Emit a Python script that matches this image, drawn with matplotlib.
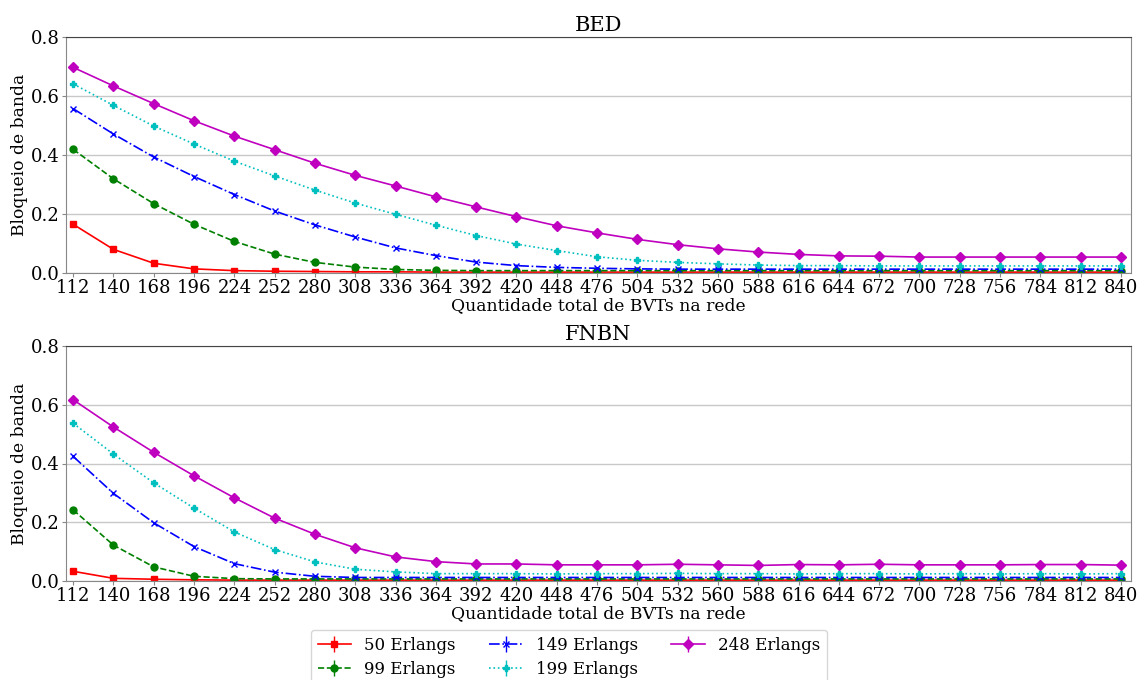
import matplotlib
matplotlib.use("Agg")
import matplotlib.pyplot as plt
import numpy as np

plt.rcParams['font.family'] = ['DejaVu Serif']

bvts = list(range(112, 841, 28))
labels = ["50 Erlangs", "99 Erlangs", "149 Erlangs", "199 Erlangs", "248 Erlangs"]

bed_50 = [0.165, 0.080, 0.033, 0.014, 0.008, 0.006, 0.005, 0.004, 0.004, 0.003, 0.003, 0.003, 0.003,
          0.003, 0.003, 0.003, 0.003, 0.003, 0.003, 0.003, 0.003, 0.003, 0.003, 0.003, 0.003, 0.003, 0.003]
bed_99 = [0.419, 0.319, 0.235, 0.165, 0.107, 0.064, 0.036, 0.020, 0.012, 0.009, 0.008, 0.008, 0.008,
          0.008, 0.008, 0.008, 0.008, 0.008, 0.008, 0.008, 0.008, 0.008, 0.008, 0.008, 0.008, 0.008, 0.008]
bed_149 = [0.557, 0.471, 0.393, 0.327, 0.266, 0.210, 0.163, 0.122, 0.085, 0.059, 0.037, 0.025, 0.019,
           0.016, 0.014, 0.013, 0.013, 0.013, 0.013, 0.013, 0.013, 0.013, 0.013, 0.013, 0.013, 0.013, 0.013]
bed_199 = [0.641, 0.568, 0.498, 0.437, 0.379, 0.329, 0.281, 0.237, 0.199, 0.162, 0.127, 0.098, 0.076,
           0.055, 0.043, 0.036, 0.031, 0.027, 0.025, 0.025, 0.024, 0.024, 0.024, 0.024, 0.024, 0.024, 0.024]
bed_248 = [0.697, 0.634, 0.574, 0.516, 0.464, 0.418, 0.372, 0.331, 0.295, 0.258, 0.224, 0.191, 0.160,
           0.136, 0.114, 0.096, 0.082, 0.071, 0.063, 0.058, 0.057, 0.054, 0.054, 0.054, 0.054, 0.054, 0.054]

fnbn_50 = [0.033, 0.009, 0.006, 0.004, 0.003, 0.003, 0.003, 0.003, 0.003, 0.003, 0.003, 0.003, 0.003,
           0.003, 0.003, 0.003, 0.003, 0.003, 0.003, 0.003, 0.003, 0.003, 0.003, 0.003, 0.003, 0.003, 0.003]
fnbn_99 = [0.242, 0.122, 0.048, 0.016, 0.008, 0.007, 0.007, 0.007, 0.007, 0.007, 0.007, 0.007, 0.007,
           0.007, 0.007, 0.007, 0.007, 0.007, 0.007, 0.007, 0.007, 0.007, 0.007, 0.007, 0.007, 0.007, 0.007]
fnbn_149 = [0.424, 0.298, 0.198, 0.117, 0.059, 0.030, 0.016, 0.012, 0.012, 0.012, 0.012, 0.012, 0.012,
            0.012, 0.012, 0.012, 0.012, 0.012, 0.012, 0.012, 0.012, 0.012, 0.012, 0.012, 0.012, 0.012, 0.012]
fnbn_199 = [0.537, 0.432, 0.334, 0.248, 0.167, 0.107, 0.065, 0.040, 0.031, 0.025, 0.025, 0.025, 0.024,
            0.025, 0.025, 0.026, 0.025, 0.025, 0.024, 0.025, 0.025, 0.024, 0.025, 0.024, 0.025, 0.024, 0.025]
fnbn_248 = [0.617, 0.524, 0.438, 0.358, 0.283, 0.214, 0.159, 0.113, 0.082, 0.066, 0.058, 0.058, 0.055,
            0.055, 0.055, 0.057, 0.055, 0.053, 0.056, 0.055, 0.057, 0.055, 0.055, 0.055, 0.056, 0.056, 0.054]

err = 0.004

styles = [
    dict(color='red', linestyle='-', marker='s', markersize=5),
    dict(color='green', linestyle='--', marker='o', markersize=5),
    dict(color='blue', linestyle='-.', marker='x', markersize=5),
    dict(color='c', linestyle=':', marker='P', markersize=5),
    dict(color='m', linestyle='-', marker='D', markersize=5.5),
]

fig = plt.figure(figsize=(11.38, 6.8), dpi=100)
ax1 = fig.add_axes([66/1138, 1-273/680, (1131-66)/1138, (273-37)/680])
ax2 = fig.add_axes([66/1138, 1-581/680, (1131-66)/1138, (581-346)/680])

panels = [(ax1, "BED", [bed_50, bed_99, bed_149, bed_199, bed_248]),
          (ax2, "FNBN", [fnbn_50, fnbn_99, fnbn_149, fnbn_199, fnbn_248])]

handles = []
for ax, title, series in panels:
    for vals, st, lab in zip(series, styles, labels):
        h = ax.errorbar(bvts, vals, yerr=[err]*len(vals), label=lab, linewidth=1.2,
                        elinewidth=1.0, capsize=0, **st)
        if ax is ax1:
            handles.append(h)
    ax.set_title(title, fontsize=15, pad=4)
    ax.set_ylim(0, 0.8)
    ax.set_xlim(107, 847)
    ax.set_xticks(bvts)
    ax.set_yticks([0.0, 0.2, 0.4, 0.6, 0.8])
    ax.set_yticklabels(["0.0", "0.2", "0.4", "0.6", "0.8"])
    ax.tick_params(labelsize=13, color='#888888', length=3, pad=1.5)
    ax.grid(axis='y', color='#c8c8c8', linewidth=1)
    ax.set_axisbelow(True)
    for s in ['left', 'bottom', 'right']:
        ax.spines[s].set_color('#888888')
    ax.spines['top'].set_color('#444444')
    ax.set_xlabel("Quantidade total de BVTs na rede", fontsize=12.3, labelpad=0)
    ax.set_ylabel("Bloqueio de banda", fontsize=12.3, labelpad=2)

fig.legend(handles=handles, labels=labels, loc='upper center', ncol=3,
           bbox_to_anchor=(0.5, 1 - 630/680), borderaxespad=0, fontsize=12, frameon=True,
           handlelength=2.0, columnspacing=2.0, borderpad=0.4, labelspacing=0.42,
           edgecolor='#cccccc')

fig.savefig("out.png", dpi=100)
